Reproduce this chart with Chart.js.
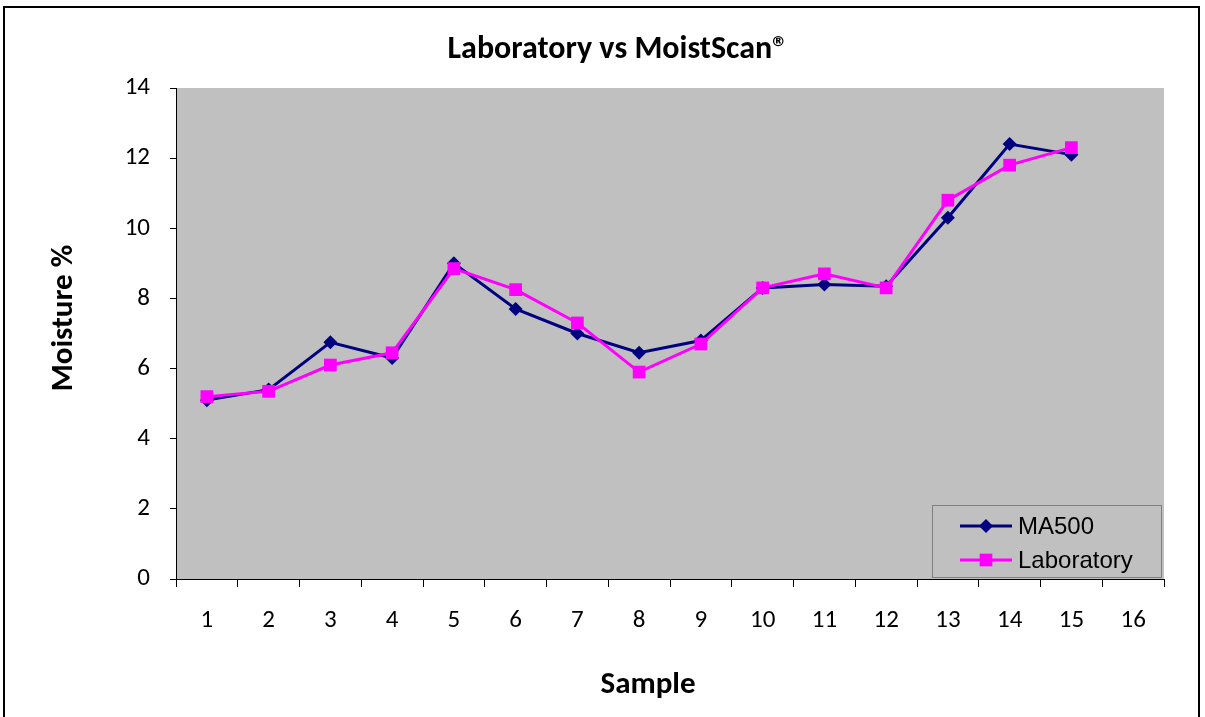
<!DOCTYPE html>
<html>
<head>
<meta charset="utf-8">
<script src="https://cdn.jsdelivr.net/npm/chart.js@4.4.1/dist/chart.umd.min.js"></script>
<style>
  html, body { margin: 0; padding: 0; background: #fff; }
  #wrap { width: 1205px; height: 717px; }
</style>
</head>
<body>
<div id="wrap"><canvas id="moistChart" width="1205" height="717"></canvas></div>
<script>
// Chart data
const samples = ['1', '2', '3', '4', '5', '6', '7', '8', '9', '10', '11', '12', '13', '14', '15', '16'];
const ma500 = [5.1, 5.4, 6.75, 6.3, 9.0, 7.7, 7.0, 6.45, 6.8, 8.3, 8.4, 8.35, 10.3, 12.4, 12.1];
const laboratory = [5.2, 5.35, 6.1, 6.45, 8.85, 8.25, 7.3, 5.9, 6.7, 8.3, 8.7, 8.3, 10.8, 11.8, 12.3];
const yTicks = [0, 2, 4, 6, 8, 10, 12, 14];

const FONT = 'Carlito, Lato, "Open Sans", sans-serif';

// Frame, plot background, titles and legend
const decor = {
    id: 'decor',
    beforeDraw(chart) {
        const ctx = chart.ctx;
        const a = chart.chartArea;
        ctx.save();
        ctx.fillStyle = '#fff';
        ctx.fillRect(0, 0, chart.width, chart.height);
        ctx.strokeStyle = '#000';
        ctx.lineWidth = 2;
        ctx.strokeRect(4, 7, 1195, 800);
        ctx.fillStyle = '#C0C0C0';
        ctx.fillRect(a.left, a.top, a.right - a.left, a.bottom - a.top);
        ctx.restore();
    },
    afterDraw(chart) {
        const ctx = chart.ctx;
        ctx.save();
        ctx.fillStyle = '#000';
        ctx.textAlign = 'center';
        ctx.textBaseline = 'middle';
        ctx.font = 'bold 32px ' + FONT;
        ctx.fillText('Laboratory vs MoistScan\u00AE', 618, 50);
        ctx.font = 'bold 31px ' + FONT;
        ctx.fillText('Sample', 648, 685);
        ctx.translate(64, 318);
        ctx.rotate(-Math.PI / 2);
        ctx.fillText('Moisture %', 0, 0);
        ctx.restore();

        // legend box inside the plot
        ctx.save();
        ctx.fillStyle = '#C0C0C0';
        ctx.fillRect(932, 505, 230, 73);
        ctx.strokeStyle = '#808080';
        ctx.lineWidth = 1;
        ctx.strokeRect(932.5, 505.5, 229, 72);
        const items = [
            { text: 'MA500', color: '#000080', style: 'rectRot', r: 7, y: 526 },
            { text: 'Laboratory', color: '#FF00FF', style: 'rect', r: 9, y: 560 }
        ];
        items.forEach(it => {
            ctx.strokeStyle = it.color;
            ctx.lineWidth = 3;
            ctx.beginPath();
            ctx.moveTo(960, it.y);
            ctx.lineTo(1012, it.y);
            ctx.stroke();
            ctx.fillStyle = it.color;
            Chart.helpers.drawPoint(ctx, { pointStyle: it.style, radius: it.r, borderWidth: 0 }, 986, it.y);
            ctx.fillStyle = '#000';
            ctx.font = '24px "Liberation Sans", Arial, sans-serif';
            ctx.textAlign = 'left';
            ctx.textBaseline = 'middle';
            ctx.fillText(it.text, 1018, it.y + 1);
        });
        ctx.restore();
    }
};

const ctx = document.getElementById('moistChart').getContext('2d');
new Chart(ctx, {
    type: 'line',
    data: {
        labels: samples,
        datasets: [{
            label: 'MA500',
            data: ma500,
            borderColor: '#000080',
            backgroundColor: '#000080',
            borderWidth: 3,
            pointStyle: 'rectRot',
            pointRadius: 7,
            pointBorderWidth: 0,
            tension: 0,
            order: 2
        }, {
            label: 'Laboratory',
            data: laboratory,
            borderColor: '#FF00FF',
            backgroundColor: '#FF00FF',
            borderWidth: 3,
            pointStyle: 'rect',
            pointRadius: 9,
            pointBorderWidth: 0,
            tension: 0,
            order: 1
        }]
    },
    options: {
        responsive: false,
        animation: false,
        layout: { padding: { left: 0, top: 88, right: 41, bottom: 0 } },
        plugins: {
            legend: { display: false },
            title: { display: false },
            tooltip: { enabled: false }
        },
        scales: {
            x: {
                offset: true,
                afterFit(scale) { scale.height = 138; },
                grid: {
                    offset: true,
                    drawOnChartArea: false,
                    drawTicks: true,
                    tickLength: 8,
                    color: '#000'
                },
                border: { display: true, color: '#000', width: 1 },
                ticks: {
                    color: '#000',
                    padding: 19,
                    maxRotation: 0,
                    autoSkip: false,
                    font: { family: FONT, size: 25 }
                }
            },
            y: {
                min: 0,
                max: 14,
                afterFit(scale) { scale.width = 176; },
                afterBuildTicks(scale) { scale.ticks = yTicks.map(v => ({ value: v })); },
                grid: {
                    drawOnChartArea: false,
                    drawTicks: true,
                    tickLength: 6,
                    color: '#000'
                },
                border: { display: true, color: '#000', width: 1 },
                ticks: {
                    color: '#000',
                    padding: 20,
                    font: { family: FONT, size: 25 }
                }
            }
        }
    },
    plugins: [decor]
});
</script>
</body>
</html>
